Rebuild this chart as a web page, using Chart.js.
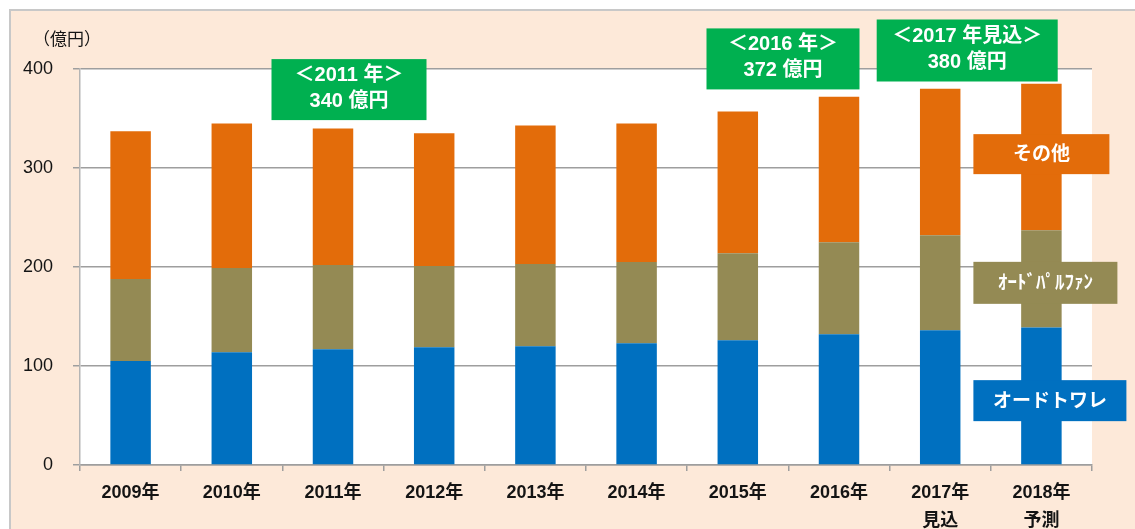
<!DOCTYPE html>
<html lang="ja">
<head>
<meta charset="utf-8">
<title>売上推移</title>
<script src="https://cdn.jsdelivr.net/npm/chart.js@4/dist/chart.umd.min.js"></script>
<style>
	html, body { margin: 0; padding: 0; background: #ffffff; overflow: hidden; }
	.frame {
		position: absolute;
		left: 9px;
		top: 9px;
		width: 1200px;
		height: 600px;
		background: #fde9d9;
		border-top: 2px solid #c8c8c8;
		border-left: 2px solid #c8c8c8;
	}
	#chart-perfume { position: absolute; left: 0; top: 0; }
</style>
</head>
<body>
<div class="frame"></div>
<canvas id="chart-perfume" width="1135" height="529"></canvas>
<script>
// Chart data
const YEARS = [
	"2009年", "2010年", "2011年", "2012年", "2013年",
	"2014年", "2015年", "2016年", ["2017年", "見込"], ["2018年", "予測"],
];
const EAU_DE_TOILETTE = [105, 114, 117, 119, 120, 123, 126, 132, 136, 139];
const EAU_DE_PARFUM = [83, 85, 85, 82, 83, 82, 88, 93, 96, 98];
const OTHERS = [149, 146, 138, 134, 140, 140, 143, 147, 148, 148];
const Y_TICKS = [0, 100, 200, 300, 400];
const UNIT_LABEL = "（億円）";

// Callouts: [category index, line 1, line 2]
const CALLOUTS = [
	[2, "＜2011 年＞", "340 億円"],
	[7, "＜2016 年＞", "372 億円"],
	[8, "＜2017 年見込＞", "380 億円"],
];
const SERIES_NAMES = ["オードトワレ", "ｵｰﾄﾞﾊﾟﾙﾌｧﾝ", "その他"];

const COLORS = {
	blue: "#0070c0",
	olive: "#948a54",
	orange: "#e36c0a",
	green: "#00b050",
	grid: "#9e9e9e",
	text: "#141414",
};
const FONT = "'Liberation Sans', 'Noto Sans CJK JP', sans-serif";
const NARROW = "'Liberation Sans Narrow', 'Liberation Sans', 'Noto Sans CJK JP', sans-serif";

//---------------------------------------------------------
// Drawing helpers (callout boxes, legend labels, white plot area)
//---------------------------------------------------------
// layout for callouts: dx from category centre, top value, width, height
const CALLOUT_BOXES = [
	{ dx: 16, top: 410, w: 155, h: 61 },
	{ dx: -56, top: 441, w: 153, h: 61 },
	{ dx: 27, top: 450, w: 181, h: 62 },
];
// layout for series labels: value of box centre, width, height, colour
const LABEL_BOXES = [
	{ v: 65, w: 153, h: 41, color: COLORS.blue },
	{ v: 184, w: 144, h: 42, color: COLORS.olive },
	{ v: 314, w: 136, h: 40, color: COLORS.orange },
];

const plotBackground = {
	id: "plotBackground",
	beforeDraw(chart) {
		const { ctx, chartArea } = chart;
		ctx.save();
		ctx.fillStyle = "#ffffff";
		ctx.fillRect(chartArea.left, chartArea.top, chartArea.right - chartArea.left, chartArea.bottom - chartArea.top);
		ctx.restore();
	},
};

const annotations = {
	id: "annotations",
	afterDraw(chart) {
		const { ctx, chartArea } = chart;
		const x = chart.scales.x;
		const y = chart.scales.y;
		ctx.save();

		// unit label
		ctx.fillStyle = COLORS.text;
		ctx.font = "17px " + FONT;
		ctx.textAlign = "left";
		ctx.textBaseline = "middle";
		ctx.fillText(UNIT_LABEL, chartArea.left - 47, chartArea.top - 29);

		// green callouts
		CALLOUTS.forEach((c, i) => {
			const b = CALLOUT_BOXES[i];
			const cx = x.getPixelForValue(c[0]) + b.dx;
			const top = y.getPixelForValue(b.top);
			ctx.fillStyle = COLORS.green;
			ctx.fillRect(cx - b.w / 2, top, b.w, b.h);
			ctx.fillStyle = "#ffffff";
			ctx.font = "bold 20px " + FONT;
			ctx.textAlign = "center";
			ctx.fillText(c[1], cx, top + b.h * 0.27);
			ctx.fillText(c[2], cx, top + b.h * 0.69);
		});

		// series labels over the last bar
		const left = x.getPixelForValue(YEARS.length - 1) - 68;
		SERIES_NAMES.forEach((name, i) => {
			const b = LABEL_BOXES[i];
			const cy = y.getPixelForValue(b.v);
			ctx.fillStyle = b.color;
			ctx.fillRect(left, cy - b.h / 2, b.w, b.h);
			ctx.fillStyle = "#ffffff";
			ctx.font = "bold 19px " + FONT;
			ctx.textAlign = "center";
			ctx.fillText(name, left + b.w / 2, cy + 1);
		});
		ctx.restore();
	},
};

//---------------------------------------------------------
// Chart
//---------------------------------------------------------
const barStyle = {
	categoryPercentage: 1,
	barPercentage: 0.4,
	borderWidth: 0,
	stack: "total",
};

const CHART_DATA = {
	labels: YEARS,
	datasets: [
		{ label: SERIES_NAMES[0], data: EAU_DE_TOILETTE, backgroundColor: COLORS.blue, ...barStyle },
		{ label: SERIES_NAMES[1], data: EAU_DE_PARFUM, backgroundColor: COLORS.olive, ...barStyle },
		{ label: SERIES_NAMES[2], data: OTHERS, backgroundColor: COLORS.orange, ...barStyle },
	],
};

const CHART_CONFIG = {
	type: "bar",
	data: CHART_DATA,
	options: {
		responsive: false,
		animation: false,
		layout: {
			padding: { left: 0, top: 69, right: 43, bottom: 0 },
		},
		scales: {
			x: {
				stacked: true,
				afterFit: (scale) => {
					scale.height = 64;
				},
				border: { display: true, color: COLORS.grid, width: 1.5 },
				grid: {
					offset: true,
					drawOnChartArea: false,
					drawTicks: true,
					tickLength: 6,
					color: COLORS.grid,
					lineWidth: 1.5,
				},
				ticks: {
					color: COLORS.text,
					padding: 8,
					maxRotation: 0,
					autoSkip: false,
					font: { family: NARROW, size: 18, weight: "bold", lineHeight: 1.55 },
				},
			},
			y: {
				stacked: true,
				min: 0,
				max: 400,
				afterFit: (scale) => {
					scale.width = 80;
				},
				afterBuildTicks: (scale) => {
					scale.ticks = Y_TICKS.map((v) => ({ value: v }));
				},
				border: { display: true, color: "#b5b5b5", width: 1.5 },
				grid: {
					color: COLORS.grid,
					lineWidth: 1.5,
					tickLength: 7,
				},
				ticks: {
					color: COLORS.text,
					padding: 20,
					font: { family: FONT, size: 18 },
				},
			},
		},
		plugins: {
			legend: { display: false },
			tooltip: { enabled: false },
		},
	},
	plugins: [plotBackground, annotations],
};

// Chart init
const CHART_WRAPPER = document.getElementById("chart-perfume");
if (CHART_WRAPPER) {
	new Chart(CHART_WRAPPER, CHART_CONFIG);
}
</script>
</body>
</html>
